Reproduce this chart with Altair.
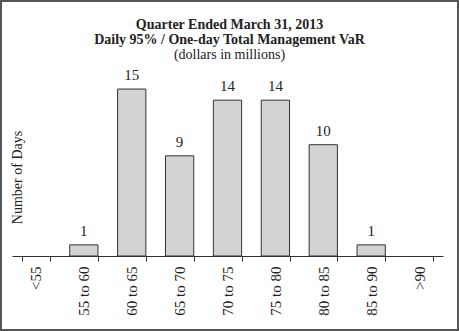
import altair as alt
import pandas as pd

categories = ["<55", "55 to 60", "60 to 65", "65 to 70", "70 to 75", "75 to 80", "80 to 85", "85 to 90", ">90"]
days = [0, 1, 15, 9, 14, 14, 10, 1, 0]

df = pd.DataFrame({"bucket": categories, "days": days})

FONT = "Liberation Serif"
TXT = "#222222"

x_enc = alt.X(
    "bucket:N",
    sort=categories,
    scale=alt.Scale(domain=categories, paddingInner=0.41, paddingOuter=0.205),
    axis=alt.Axis(
        title=None,
        labelAngle=270,
        labelFont=FONT,
        labelFontSize=15,
        labelColor=TXT,
        labelPadding=5,
        tickBand="extent",
        tickSize=5,
        tickColor="#333333",
        domainColor="#333333",
        grid=False,
    ),
)
y_enc = alt.Y(
    "days:Q",
    scale=alt.Scale(domain=[0, 17.43], nice=False),
    axis=alt.Axis(
        title="Number of Days",
        titleFont=FONT,
        titleFontSize=14,
        titleFontWeight="normal",
        titleColor=TXT,
        titleX=12,
        titleY=115,
        titleAngle=270,
        titleBaseline="bottom",
        titleAlign="center",
        labels=False,
        ticks=False,
        domain=False,
        grid=False,
    ),
)

base = alt.Chart(df)

bars = base.transform_filter("datum.days > 0").mark_bar(
    fill="#d3d3d3", stroke="#333333", strokeWidth=1
).encode(x=x_enc, y=y_enc)

labels = base.transform_filter("datum.days > 0").mark_text(
    font=FONT, fontSize=15, color=TXT, baseline="alphabetic", dy=-9
).encode(x=alt.X("bucket:N", sort=categories), y="days:Q", text="days:Q")

frame = base.mark_rect(fill=None, stroke="#555555", strokeWidth=2, clip=False).encode(
    x=alt.value(-11), x2=alt.value(446), y=alt.value(-61), y2=alt.value(268)
).transform_filter("datum.bucket == '<55'")

chart = alt.layer(bars, labels, frame).properties(
    width=431,
    height=194,
    background="white",
    autosize=alt.AutoSizeParams(type="none"),
    padding={"left": 12, "top": 62, "right": 16, "bottom": 75},
    title=alt.TitleParams(
        text=["Quarter Ended March 31, 2013", "Daily 95% / One-day Total Management VaR"],
        subtitle="(dollars in millions)",
        font=FONT,
        fontSize=14,
        fontWeight="bold",
        color=TXT,
        lineHeight=15,
        subtitleFont=FONT,
        subtitleFontSize=14,
        subtitleFontWeight="normal",
        subtitleColor=TXT,
        subtitleLineHeight=15,
        subtitlePadding=1,
        anchor="middle",
        dx=2,
        offset=-62,
    ),
).configure_view(stroke=None)

chart.save("out.html", embed_options={"renderer": "svg", "actions": False})
